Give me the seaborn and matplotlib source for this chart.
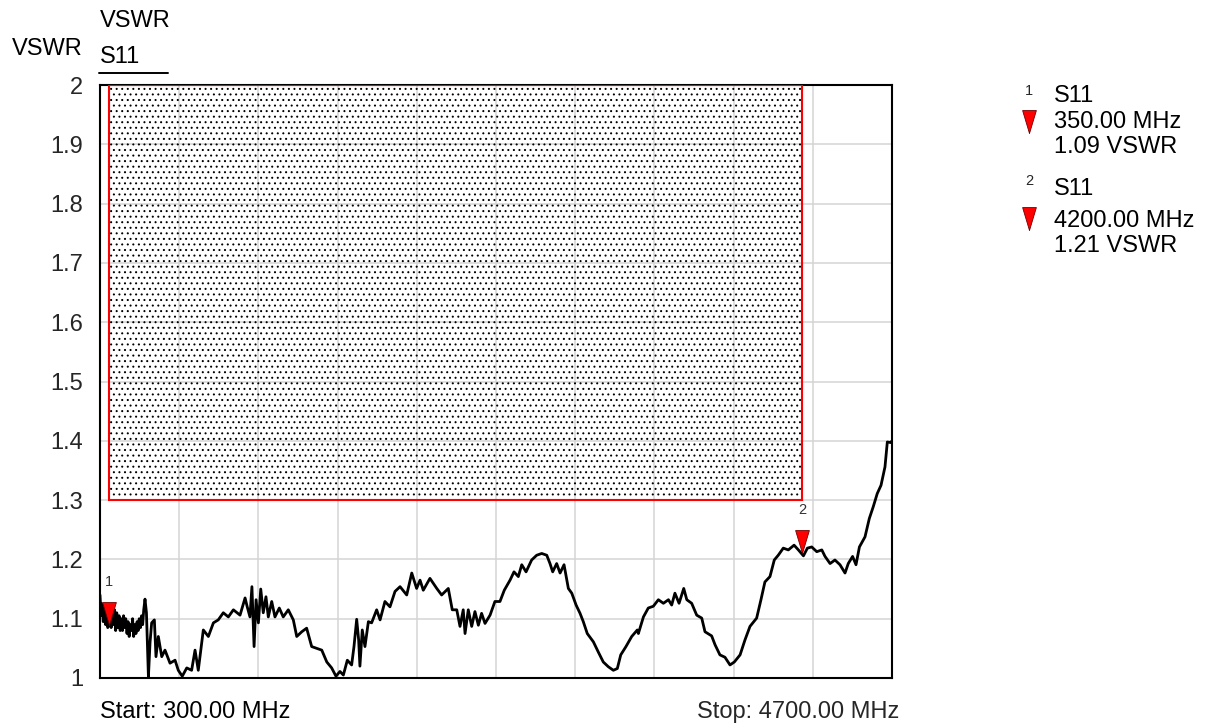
import numpy as np
import pandas as pd
import matplotlib
matplotlib.use("Agg")
import matplotlib.pyplot as plt
import seaborn as sns
from matplotlib.lines import Line2D
from matplotlib.patches import Rectangle

# S11 trace (MHz, VSWR)
freq_mhz = [
    300, 306, 312, 318, 325, 331, 337, 343, 350, 356, 362, 368, 375, 381, 387, 393,
    400, 406, 412, 418, 425, 431, 437, 443, 450, 456, 462, 468, 475, 481, 487, 493,
    500, 506, 512, 518, 525, 531, 537, 543, 550, 558, 569, 578, 587, 602, 611, 624,
    643, 661, 689, 717, 735, 757, 782, 809, 828, 846, 874, 902, 930, 957, 985, 1013,
    1041, 1078, 1106, 1118, 1133, 1144, 1156, 1167, 1180, 1193, 1207, 1222, 1235, 1254,
    1272, 1296, 1318, 1346, 1374, 1393, 1421, 1448, 1476, 1504, 1532, 1560, 1587, 1611,
    1633, 1652, 1674, 1698, 1711, 1726, 1737, 1744, 1757, 1772, 1791, 1809, 1837, 1856,
    1883, 1911, 1939, 1967, 2004, 2032, 2059, 2078, 2096, 2133, 2171, 2198, 2235, 2257,
    2282, 2300, 2318, 2328, 2346, 2365, 2383, 2402, 2420, 2439, 2467, 2494, 2522, 2546,
    2578, 2600, 2624, 2643, 2667, 2698, 2726, 2754, 2782, 2800, 2815, 2837, 2856, 2878,
    2902, 2921, 2945, 2967, 2985, 3007, 3041, 3068, 3096, 3124, 3152, 3174, 3193, 3222,
    3254, 3285, 3291, 3319, 3346, 3374, 3402, 3430, 3458, 3476, 3494, 3517, 3543, 3560,
    3587, 3615, 3643, 3661, 3698, 3717, 3744, 3772, 3800, 3824, 3856, 3883, 3911, 3948,
    3972, 3994, 4022, 4046, 4068, 4096, 4124, 4156, 4180, 4208, 4230, 4254, 4282, 4310,
    4328, 4356, 4383, 4411, 4439, 4457, 4481, 4500, 4519, 4550, 4574, 4596, 4618, 4639,
    4661, 4674, 4693, 4700,
]
vswr = [
    1.14, 1.105, 1.125, 1.095, 1.12, 1.09, 1.115, 1.085, 1.09, 1.115, 1.085, 1.11, 1.09, 1.115, 1.08, 1.11,
    1.085, 1.105, 1.08, 1.10, 1.08, 1.105, 1.085, 1.10, 1.075, 1.095, 1.07, 1.09, 1.08, 1.10, 1.07, 1.09,
    1.075, 1.095, 1.08, 1.10, 1.085, 1.105, 1.09, 1.115, 1.133, 1.11, 1.002, 1.06, 1.093, 1.098, 1.036, 1.07,
    1.036, 1.047, 1.025, 1.03, 1.013, 1.003, 1.017, 1.013, 1.047, 1.013, 1.081, 1.07, 1.093, 1.098, 1.11, 1.103,
    1.115, 1.106, 1.135, 1.12, 1.103, 1.154, 1.053, 1.132, 1.093, 1.15, 1.11, 1.137, 1.103, 1.129,
    1.103, 1.118, 1.103, 1.115, 1.098, 1.07, 1.078, 1.084, 1.053, 1.05, 1.047, 1.027, 1.017, 1.003,
    1.011, 1.005, 1.03, 1.022, 1.053, 1.099, 1.064, 1.02, 1.081, 1.053, 1.095, 1.093, 1.115, 1.098,
    1.129, 1.12, 1.146, 1.154, 1.14, 1.177, 1.151, 1.165, 1.148, 1.168, 1.151, 1.14, 1.151, 1.115,
    1.115, 1.087, 1.115, 1.075, 1.115, 1.087, 1.112, 1.089, 1.109, 1.092, 1.106, 1.129, 1.129, 1.148,
    1.165, 1.179, 1.171, 1.191, 1.179, 1.199, 1.207, 1.21, 1.207, 1.193, 1.179, 1.193, 1.177, 1.191,
    1.151, 1.143, 1.123, 1.109, 1.095, 1.075, 1.061, 1.044, 1.027, 1.019, 1.013, 1.016, 1.039, 1.053,
    1.07, 1.081, 1.075, 1.103, 1.118, 1.121, 1.132, 1.126, 1.132, 1.123, 1.143, 1.126, 1.151, 1.132,
    1.126, 1.106, 1.101, 1.078, 1.071, 1.056, 1.039, 1.035, 1.022, 1.027, 1.039, 1.064, 1.087, 1.101,
    1.132, 1.162, 1.171, 1.199, 1.207, 1.219, 1.216, 1.224, 1.216, 1.206, 1.219, 1.221, 1.213, 1.216,
    1.205, 1.193, 1.199, 1.191, 1.177, 1.193, 1.205, 1.191, 1.221, 1.238, 1.269, 1.289, 1.311, 1.325,
    1.356, 1.398, 1.397, 1.40,
]

# limit line: fail region above 1.3 VSWR
limit_freq = [350, 4200]
limit_low = 1.3
limit_high = 2.0

# markers
marker_names = ["1", "2"]
marker_freq = [350, 4200]
marker_vswr = [1.09, 1.21]

y_ticks = [1.0, 1.1, 1.2, 1.3, 1.4, 1.5, 1.6, 1.7, 1.8, 1.9, 2.0]
y_tick_labels = ["1", "1.1", "1.2", "1.3", "1.4", "1.5", "1.6", "1.7", "1.8", "1.9", "2"]
start_mhz = 300
stop_mhz = 4700
x_divisions = 10

W, H = 1208, 725
FONT = ["Liberation Sans", "DejaVu Sans"]
# down triangle with its tip at the data point
TRI = [(0, 0), (-0.3, 1), (0.3, 1), (0, 0)]


def fx(x):
    return x / W


def fy(y):
    return 1 - y / H


def draw_trace(ax):
    df = pd.DataFrame({"freq": freq_mhz, "vswr": vswr})
    sns.lineplot(data=df, x="freq", y="vswr", ax=ax, color="black",
                 linewidth=2.0, estimator=None, sort=False, zorder=4)


def draw_limit(ax):
    ax.fill_between(limit_freq, [limit_low] * 2, [limit_high] * 2,
                    facecolor="none", edgecolor="black", hatch="...",
                    linewidth=0, zorder=2)
    rect = Rectangle((limit_freq[0], limit_low), limit_freq[1] - limit_freq[0],
                     limit_high - limit_low, fill=False, edgecolor="red",
                     linewidth=1.5, zorder=3)
    ax.add_patch(rect)


def draw_markers(ax):
    ax.plot(marker_freq, marker_vswr, ls="none", marker=TRI, ms=33,
            mfc="red", mec="#700000", mew=0.6, zorder=5, clip_on=False)
    for name, f, v in zip(marker_names, marker_freq, marker_vswr):
        ax.annotate(name, (f, v), xytext=(0, 31), textcoords="offset points",
                    ha="center", va="center", fontsize=10.5, color="#333333")


def draw_side_text(fig):
    t = dict(fontsize=17, color="black", ha="left", va="baseline")
    fig.text(fx(100), fy(27), "VSWR", **t)
    fig.text(fx(12), fy(55), "VSWR", **t)
    fig.text(fx(100), fy(63), "S11", **t)
    fig.add_artist(Line2D([fx(99), fx(168)], [fy(73), fy(73)], color="black", lw=1.4))
    fig.text(fx(100), fy(718), f"Start: {start_mhz:.2f} MHz", **t)
    fig.text(fx(899), fy(718), f"Stop: {stop_mhz:.2f} MHz",
             fontsize=17, ha="right", va="baseline")

    # marker readout on the right
    blocks = [(95, 102, 133, 128, 153), (185, 195, 230, 227, 252)]
    for name, f, v, (yn, ys, ytip, yf, yv) in zip(marker_names, marker_freq, marker_vswr, blocks):
        fig.text(fx(1029), fy(yn), name, fontsize=10.5, ha="center", va="baseline")
        fig.text(fx(1054), fy(ys), "S11", **t)
        fig.add_artist(Line2D([fx(1029)], [fy(ytip)], ls="none", marker=TRI, ms=33,
                              mfc="red", mec="#700000", mew=0.6))
        fig.text(fx(1054), fy(yf), f"{f:.2f} MHz", **t)
        fig.text(fx(1054), fy(yv), f"{v:.2f} VSWR", **t)


def main():
    sns.set_theme(style="white")
    plt.rcParams["font.family"] = FONT
    plt.rcParams["hatch.linewidth"] = 0.7

    fig = plt.figure(figsize=(W / 100, H / 100), dpi=100)
    ax = fig.add_axes([fx(100), fy(678), (892 - 100) / W, (678 - 85) / H])

    draw_limit(ax)
    draw_trace(ax)
    draw_markers(ax)

    ax.set_xlim(start_mhz, stop_mhz)
    ax.set_ylim(y_ticks[0], y_ticks[-1])
    ax.set_xticks(np.linspace(start_mhz, stop_mhz, x_divisions + 1))
    ax.set_xticklabels([])
    ax.set_yticks(y_ticks)
    ax.set_yticklabels(y_tick_labels, fontsize=17)
    ax.tick_params(length=0, pad=12)
    ax.set_xlabel("")
    ax.set_ylabel("")
    ax.grid(True, color="#d4d4d4", linewidth=1.1)
    ax.set_axisbelow(True)
    for sp in ax.spines.values():
        sp.set_color("black")
        sp.set_linewidth(1.5)
        sp.set_visible(True)

    draw_side_text(fig)
    fig.savefig("out.png", dpi=100, facecolor="white")


if __name__ == "__main__":
    main()
